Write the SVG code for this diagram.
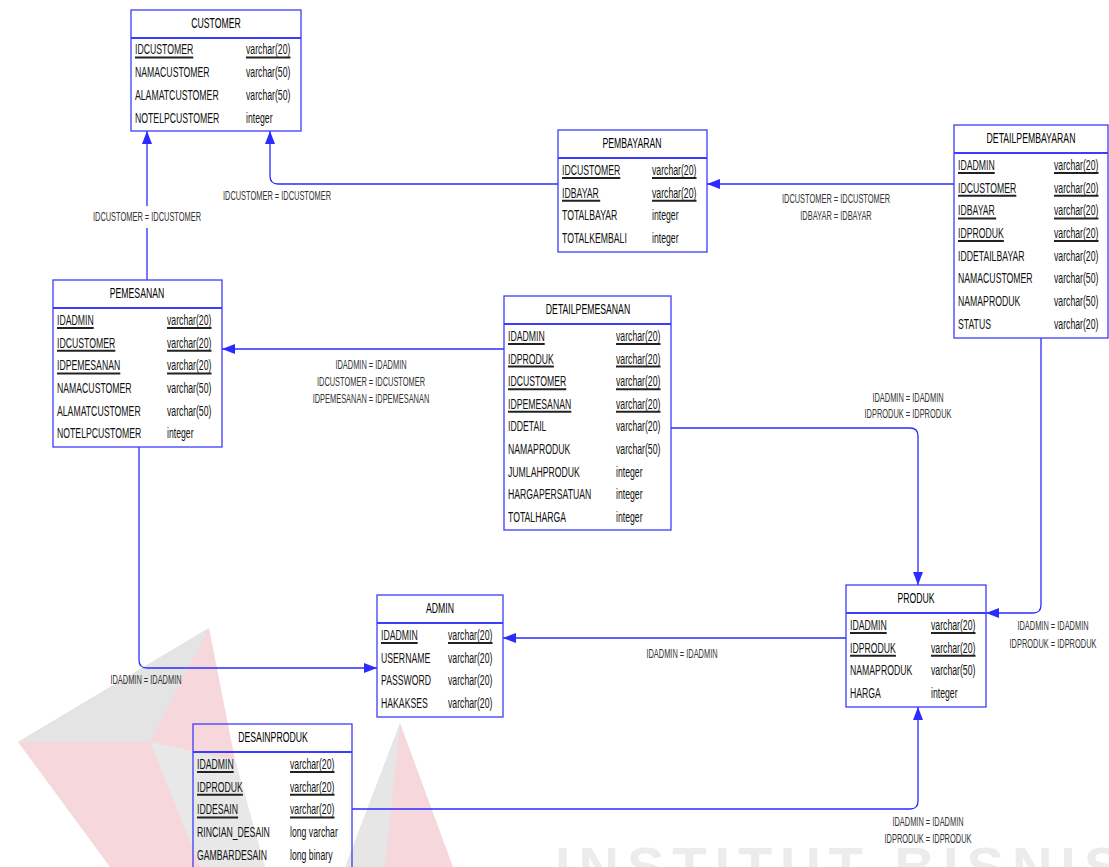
<svg xmlns="http://www.w3.org/2000/svg" width="1109" height="867" viewBox="0 0 1109 867">
<style>
.bx{fill:none;stroke:#3c3cff;stroke-width:1.3}
.sp{stroke:#3c3cff;stroke-width:2}
.t{font-family:"Liberation Sans",Arial,sans-serif;font-size:14.5px;fill:#111}
.ti{text-anchor:middle;fill:#000}
.u{stroke:#222;stroke-width:2}
.c{fill:none;stroke:#2b2bff;stroke-width:1.3}
.l{font-family:"Liberation Sans",Arial,sans-serif;font-size:12px;fill:#333;text-anchor:middle}
.wm{font-family:"Liberation Sans",Arial,sans-serif;font-weight:bold;font-size:56px;fill:#ececec;letter-spacing:8px}
</style>
<defs>
<marker id="ar" markerUnits="userSpaceOnUse" markerWidth="14" markerHeight="10" refX="13" refY="5" orient="auto">
<path d="M0,0 L13,5 L0,10 z" fill="#2b2bff"/>
</marker>
</defs>
<g id="watermark">
<polygon points="209,628 18,742 110,867 265,867 235,760" fill="#f6d7db"/>
<polygon points="209,628 150,742 18,742" fill="#e4e4e4"/>
<polygon points="150,742 235,760 265,867 200,867" fill="#e8e8e8"/>
<polygon points="400,723 352,867 453,867" fill="#f6d7db"/>
<polygon points="400,723 345,867 385,867" fill="#e6e6e6"/>
<text class="wm" x="555" y="886">INSTITUT BISNIS</text>
</g>
<g id="connectors">
<path class="c" d="M558,184 H278 Q270,184 270,176 V131" marker-end="url(#ar)"/>
<path class="c" d="M147,280 V228"/>
<path class="c" d="M147,206 V131" marker-end="url(#ar)"/>
<path class="c" d="M954,184 H707" marker-end="url(#ar)"/>
<path class="c" d="M504,349 H222" marker-end="url(#ar)"/>
<path class="c" d="M671,428 H910 Q918,428 918,436 V585" marker-end="url(#ar)"/>
<path class="c" d="M1041,338 V605 Q1041,613 1033,613 H986" marker-end="url(#ar)"/>
<path class="c" d="M846,638 H503" marker-end="url(#ar)"/>
<path class="c" d="M139,447 V660 Q139,668 147,668 H377" marker-end="url(#ar)"/>
<path class="c" d="M352,809 H910 Q918,809 918,801 V707" marker-end="url(#ar)"/>
<text class="l" transform="translate(277,200) scale(0.62,1)">IDCUSTOMER = IDCUSTOMER</text>
<text class="l" transform="translate(147,221) scale(0.62,1)">IDCUSTOMER = IDCUSTOMER</text>
<text class="l" transform="translate(836,203) scale(0.62,1)">IDCUSTOMER = IDCUSTOMER</text>
<text class="l" transform="translate(836,220) scale(0.62,1)">IDBAYAR = IDBAYAR</text>
<text class="l" transform="translate(371,369) scale(0.62,1)">IDADMIN = IDADMIN</text>
<text class="l" transform="translate(371,386) scale(0.62,1)">IDCUSTOMER = IDCUSTOMER</text>
<text class="l" transform="translate(371,403) scale(0.62,1)">IDPEMESANAN = IDPEMESANAN</text>
<text class="l" transform="translate(908,402) scale(0.62,1)">IDADMIN = IDADMIN</text>
<text class="l" transform="translate(908,418) scale(0.62,1)">IDPRODUK = IDPRODUK</text>
<text class="l" transform="translate(1053,630) scale(0.62,1)">IDADMIN = IDADMIN</text>
<text class="l" transform="translate(1053,648) scale(0.62,1)">IDPRODUK = IDPRODUK</text>
<text class="l" transform="translate(682,658) scale(0.62,1)">IDADMIN = IDADMIN</text>
<text class="l" transform="translate(146,684) scale(0.62,1)">IDADMIN = IDADMIN</text>
<text class="l" transform="translate(928,826) scale(0.62,1)">IDADMIN = IDADMIN</text>
<text class="l" transform="translate(928,843) scale(0.62,1)">IDPRODUK = IDPRODUK</text>
</g>
<g id="customer">
<rect class="bx" x="131" y="10" width="170" height="121"/>
<line class="sp" x1="131" y1="38" x2="301" y2="38"/>
<text class="t ti" transform="translate(216,28) scale(0.6,1)">CUSTOMER</text>
<g transform="translate(135,0) scale(0.6,1)">
<text class="t" y="54.5">IDCUSTOMER</text><text class="t" y="77.2">NAMACUSTOMER</text><text class="t" y="99.9">ALAMATCUSTOMER</text><text class="t" y="122.6">NOTELPCUSTOMER</text>
</g>
<g transform="translate(246,0) scale(0.6,1)">
<text class="t" y="54.5">varchar(20)</text><text class="t" y="77.2">varchar(50)</text><text class="t" y="99.9">varchar(50)</text><text class="t" y="122.6">integer</text>
</g>
<line class="u" x1="135" y1="57.5" x2="193.3" y2="57.5"/><line class="u" x1="246" y1="57.5" x2="290.5" y2="57.5"/>
</g>
<g id="pembayaran">
<rect class="bx" x="558" y="130" width="149" height="122"/>
<line class="sp" x1="558" y1="158" x2="707" y2="158"/>
<text class="t ti" transform="translate(632,148) scale(0.6,1)">PEMBAYARAN</text>
<g transform="translate(562,0) scale(0.6,1)">
<text class="t" y="175">IDCUSTOMER</text><text class="t" y="197.7">IDBAYAR</text><text class="t" y="220.4">TOTALBAYAR</text><text class="t" y="243.1">TOTALKEMBALI</text>
</g>
<g transform="translate(652,0) scale(0.6,1)">
<text class="t" y="175">varchar(20)</text><text class="t" y="197.7">varchar(20)</text><text class="t" y="220.4">integer</text><text class="t" y="243.1">integer</text>
</g>
<line class="u" x1="562" y1="178" x2="620.3" y2="178"/><line class="u" x1="652" y1="178" x2="696.5" y2="178"/>
<line class="u" x1="562" y1="200.7" x2="600.2" y2="200.7"/><line class="u" x1="652" y1="200.7" x2="696.5" y2="200.7"/>
</g>
<g id="detailpembayaran">
<rect class="bx" x="954" y="125" width="154" height="213"/>
<line class="sp" x1="954" y1="153" x2="1108" y2="153"/>
<text class="t ti" transform="translate(1031,143) scale(0.6,1)">DETAILPEMBAYARAN</text>
<g transform="translate(958,0) scale(0.6,1)">
<text class="t" y="170">IDADMIN</text><text class="t" y="192.7">IDCUSTOMER</text><text class="t" y="215.4">IDBAYAR</text><text class="t" y="238.1">IDPRODUK</text><text class="t" y="260.8">IDDETAILBAYAR</text><text class="t" y="283.5">NAMACUSTOMER</text><text class="t" y="306.2">NAMAPRODUK</text><text class="t" y="328.9">STATUS</text>
</g>
<g transform="translate(1054,0) scale(0.6,1)">
<text class="t" y="170">varchar(20)</text><text class="t" y="192.7">varchar(20)</text><text class="t" y="215.4">varchar(20)</text><text class="t" y="238.1">varchar(20)</text><text class="t" y="260.8">varchar(20)</text><text class="t" y="283.5">varchar(50)</text><text class="t" y="306.2">varchar(50)</text><text class="t" y="328.9">varchar(20)</text>
</g>
<line class="u" x1="958" y1="173" x2="994.7" y2="173"/><line class="u" x1="1054" y1="173" x2="1098.5" y2="173"/>
<line class="u" x1="958" y1="195.7" x2="1016.3" y2="195.7"/><line class="u" x1="1054" y1="195.7" x2="1098.5" y2="195.7"/>
<line class="u" x1="958" y1="218.4" x2="996.2" y2="218.4"/><line class="u" x1="1054" y1="218.4" x2="1098.5" y2="218.4"/>
<line class="u" x1="958" y1="241.1" x2="1003.9" y2="241.1"/><line class="u" x1="1054" y1="241.1" x2="1098.5" y2="241.1"/>
</g>
<g id="pemesanan">
<rect class="bx" x="53" y="280" width="169" height="167"/>
<line class="sp" x1="53" y1="308" x2="222" y2="308"/>
<text class="t ti" transform="translate(137,298) scale(0.6,1)">PEMESANAN</text>
<g transform="translate(57,0) scale(0.6,1)">
<text class="t" y="325">IDADMIN</text><text class="t" y="347.7">IDCUSTOMER</text><text class="t" y="370.4">IDPEMESANAN</text><text class="t" y="393.1">NAMACUSTOMER</text><text class="t" y="415.8">ALAMATCUSTOMER</text><text class="t" y="438.5">NOTELPCUSTOMER</text>
</g>
<g transform="translate(167,0) scale(0.6,1)">
<text class="t" y="325">varchar(20)</text><text class="t" y="347.7">varchar(20)</text><text class="t" y="370.4">varchar(20)</text><text class="t" y="393.1">varchar(50)</text><text class="t" y="415.8">varchar(50)</text><text class="t" y="438.5">integer</text>
</g>
<line class="u" x1="57" y1="328" x2="93.7" y2="328"/><line class="u" x1="167" y1="328" x2="211.5" y2="328"/>
<line class="u" x1="57" y1="350.7" x2="115.3" y2="350.7"/><line class="u" x1="167" y1="350.7" x2="211.5" y2="350.7"/>
<line class="u" x1="57" y1="373.4" x2="120.3" y2="373.4"/><line class="u" x1="167" y1="373.4" x2="211.5" y2="373.4"/>
</g>
<g id="detailpemesanan">
<rect class="bx" x="504" y="296" width="167" height="234"/>
<line class="sp" x1="504" y1="324" x2="671" y2="324"/>
<text class="t ti" transform="translate(588,314) scale(0.6,1)">DETAILPEMESANAN</text>
<g transform="translate(508,0) scale(0.6,1)">
<text class="t" y="341">IDADMIN</text><text class="t" y="363.6">IDPRODUK</text><text class="t" y="386.2">IDCUSTOMER</text><text class="t" y="408.8">IDPEMESANAN</text><text class="t" y="431.4">IDDETAIL</text><text class="t" y="454">NAMAPRODUK</text><text class="t" y="476.6">JUMLAHPRODUK</text><text class="t" y="499.2">HARGAPERSATUAN</text><text class="t" y="521.8">TOTALHARGA</text>
</g>
<g transform="translate(616,0) scale(0.6,1)">
<text class="t" y="341">varchar(20)</text><text class="t" y="363.6">varchar(20)</text><text class="t" y="386.2">varchar(20)</text><text class="t" y="408.8">varchar(20)</text><text class="t" y="431.4">varchar(20)</text><text class="t" y="454">varchar(50)</text><text class="t" y="476.6">integer</text><text class="t" y="499.2">integer</text><text class="t" y="521.8">integer</text>
</g>
<line class="u" x1="508" y1="344" x2="544.7" y2="344"/><line class="u" x1="616" y1="344" x2="660.5" y2="344"/>
<line class="u" x1="508" y1="366.6" x2="553.9" y2="366.6"/><line class="u" x1="616" y1="366.6" x2="660.5" y2="366.6"/>
<line class="u" x1="508" y1="389.2" x2="566.3" y2="389.2"/><line class="u" x1="616" y1="389.2" x2="660.5" y2="389.2"/>
<line class="u" x1="508" y1="411.8" x2="571.3" y2="411.8"/><line class="u" x1="616" y1="411.8" x2="660.5" y2="411.8"/>
</g>
<g id="admin">
<rect class="bx" x="377" y="595" width="126" height="122"/>
<line class="sp" x1="377" y1="623" x2="503" y2="623"/>
<text class="t ti" transform="translate(440,613) scale(0.6,1)">ADMIN</text>
<g transform="translate(381,0) scale(0.6,1)">
<text class="t" y="640">IDADMIN</text><text class="t" y="662.7">USERNAME</text><text class="t" y="685.4">PASSWORD</text><text class="t" y="708.1">HAKAKSES</text>
</g>
<g transform="translate(448,0) scale(0.6,1)">
<text class="t" y="640">varchar(20)</text><text class="t" y="662.7">varchar(20)</text><text class="t" y="685.4">varchar(20)</text><text class="t" y="708.1">varchar(20)</text>
</g>
<line class="u" x1="381" y1="643" x2="417.7" y2="643"/><line class="u" x1="448" y1="643" x2="492.5" y2="643"/>
</g>
<g id="produk">
<rect class="bx" x="846" y="585" width="140" height="122"/>
<line class="sp" x1="846" y1="613" x2="986" y2="613"/>
<text class="t ti" transform="translate(916,603) scale(0.6,1)">PRODUK</text>
<g transform="translate(850,0) scale(0.6,1)">
<text class="t" y="630">IDADMIN</text><text class="t" y="652.7">IDPRODUK</text><text class="t" y="675.4">NAMAPRODUK</text><text class="t" y="698.1">HARGA</text>
</g>
<g transform="translate(931,0) scale(0.6,1)">
<text class="t" y="630">varchar(20)</text><text class="t" y="652.7">varchar(20)</text><text class="t" y="675.4">varchar(50)</text><text class="t" y="698.1">integer</text>
</g>
<line class="u" x1="850" y1="633" x2="886.7" y2="633"/><line class="u" x1="931" y1="633" x2="975.5" y2="633"/>
<line class="u" x1="850" y1="655.7" x2="895.9" y2="655.7"/><line class="u" x1="931" y1="655.7" x2="975.5" y2="655.7"/>
</g>
<g id="desainproduk">
<rect class="bx" x="193" y="724" width="159" height="150"/>
<line class="sp" x1="193" y1="752" x2="352" y2="752"/>
<text class="t ti" transform="translate(273,742) scale(0.6,1)">DESAINPRODUK</text>
<g transform="translate(197,0) scale(0.6,1)">
<text class="t" y="769">IDADMIN</text><text class="t" y="791.7">IDPRODUK</text><text class="t" y="814.4">IDDESAIN</text><text class="t" y="837.1">RINCIAN_DESAIN</text><text class="t" y="859.8">GAMBARDESAIN</text>
</g>
<g transform="translate(290,0) scale(0.6,1)">
<text class="t" y="769">varchar(20)</text><text class="t" y="791.7">varchar(20)</text><text class="t" y="814.4">varchar(20)</text><text class="t" y="837.1">long varchar</text><text class="t" y="859.8">long binary</text>
</g>
<line class="u" x1="197" y1="772" x2="233.7" y2="772"/><line class="u" x1="290" y1="772" x2="334.5" y2="772"/>
<line class="u" x1="197" y1="794.7" x2="242.9" y2="794.7"/><line class="u" x1="290" y1="794.7" x2="334.5" y2="794.7"/>
<line class="u" x1="197" y1="817.4" x2="238.1" y2="817.4"/><line class="u" x1="290" y1="817.4" x2="334.5" y2="817.4"/>
</g>
</svg>
